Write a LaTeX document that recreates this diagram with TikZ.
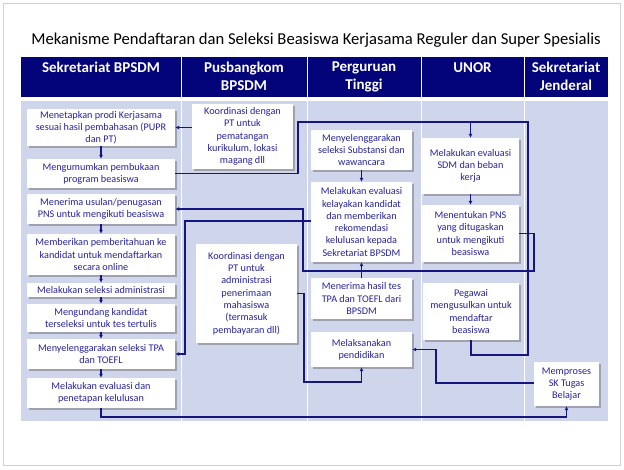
\documentclass[tikz,border=0pt]{standalone}
\usepackage{fontspec}
\setmainfont{Carlito}
\usetikzlibrary{arrows.meta,shadows}
\definecolor{navyline}{RGB}{22,22,128}
\definecolor{boxtext}{RGB}{40,36,150}
\definecolor{headfill}{RGB}{4,4,122}
\definecolor{bodyfill}{RGB}{207,213,234}
\tikzset{
  box/.style={fill=white, draw=none, inner sep=0pt, align=center, text=boxtext,
    font=\fontsize{10.2}{12.3}\selectfont,
    drop shadow={shadow xshift=1.6pt, shadow yshift=-1.6pt, opacity=0.45, fill=black!60}},
  headlbl/.style={anchor=north, text=white, align=center, inner sep=0pt,
    font=\bfseries\fontsize{15}{18}\selectfont},
  conn/.style={draw=navyline, line width=1.2pt},
  arr/.style={conn, -{Latex[length=4pt,width=4pt]}},
}
\begin{document}
\begin{tikzpicture}[x=1pt,y=-1pt]
\useasboundingbox (0,0) rectangle (624,469);
% slide frame
\draw[black!18, line width=1pt] (3,3) rectangle (620,465);
% title
\node[font=\fontsize{16.6}{19}\selectfont, inner sep=0pt] (title) at (316,40) {Mekanisme Pendaftaran dan Seleksi Beasiswa Kerjasama Reguler dan Super Spesialis};
% header and body
\fill[headfill] (21,57) rectangle (608,97);
\fill[bodyfill] (21,101) rectangle (608,421);
\foreach \xx in {181,307,421,524}{
  \draw[white, line width=1pt] (\xx,57) -- (\xx,97);
  \draw[white, line width=1pt] (\xx,101) -- (\xx,421);
}
\node[headlbl] (h1) at (101,62) {Sekretariat BPSDM};
\node[headlbl] (h2) at (244,62) {Pusbangkom\\BPSDM};
\node[headlbl] (h3) at (364,62) {Perguruan\\Tinggi};
\node[headlbl] (h4) at (472.5,62) {UNOR};
\node[headlbl] (h5) at (566,62) {Sekretariat\\Jenderal};
% column 1
\node[box, minimum width=148, minimum height=37] (A) at (101,127.5) {Menetapkan prodi Kerjasama\\sesuai hasil pembahasan (PUPR\\dan PT)};
\node[box, minimum width=148, minimum height=29] (B) at (101,173.5) {Mengumumkan pembukaan\\program beasiswa};
\node[box, minimum width=148, minimum height=30] (C) at (101,209) {Menerima usulan/penugasan\\PNS untuk mengikuti beasiswa};
\node[box, minimum width=148, minimum height=41] (D) at (101,254.5) {Memberikan pemberitahuan ke\\kandidat untuk mendaftarkan\\secara online};
\node[box, minimum width=148, minimum height=14] (E) at (101,290) {Melakukan seleksi administrasi};
\node[box, minimum width=148, minimum height=28] (F) at (101,318) {Mengundang kandidat\\terseleksi untuk tes tertulis};
\node[box, minimum width=148, minimum height=30] (G) at (101,354) {Menyelenggarakan seleksi TPA\\dan TOEFL};
\node[box, minimum width=148, minimum height=30] (H) at (101,393) {Melakukan evaluasi dan\\penetapan kelulusan};
% column 2
\node[box, minimum width=101, minimum height=65] (P1) at (242.5,136.5) {Koordinasi dengan\\PT untuk\\pematangan\\kurikulum, lokasi\\magang dll};
\node[box, minimum width=101, minimum height=99] (P2) at (246.5,293.5) {Koordinasi dengan\\PT untuk\\administrasi\\penerimaan\\mahasiswa\\(termasuk\\pembayaran dll)};
% column 3
\node[box, minimum width=101, minimum height=40] (T1) at (361.5,150) {Menyelenggarakan\\seleksi Substansi dan\\wawancara};
\node[box, minimum width=101, minimum height=80] (T2) at (361.5,222) {Melakukan evaluasi\\kelayakan kandidat\\dan memberikan\\rekomendasi\\kelulusan kepada\\Sekretariat BPSDM};
\node[box, minimum width=101, minimum height=41] (T3) at (361.5,298.5) {Menerima hasil tes\\TPA dan TOEFL dari\\BPSDM};
\node[box, minimum width=101, minimum height=35] (T4) at (361.5,349.5) {Melaksanakan\\pendidikan};
% column 4
\node[box, minimum width=97, minimum height=56] (U1) at (470.5,166) {Melakukan evaluasi\\SDM dan beban\\kerja};
\node[box, minimum width=97, minimum height=57] (U2) at (470.5,233.5) {Menentukan PNS\\yang ditugaskan\\untuk mengikuti\\beasiswa};
\node[box, minimum width=96, minimum height=57] (U3) at (471,311.5) {Pegawai\\mengusulkan untuk\\mendaftar\\beasiswa};
% column 5
\node[box, minimum width=65, minimum height=44] (S1) at (566.5,384) {Memproses\\SK Tugas\\Belajar};
% routing coordinates
\coordinate (bA) at (298,173.5);
\coordinate (bB) at (298,122);
\coordinate (bC) at (470.5,122);
\coordinate (uA) at (471,355);
\coordinate (uB) at (528,355);
\coordinate (uC) at (528,122);
\coordinate (vA) at (534,233.5);
\coordinate (vB) at (534,271);
\coordinate (vC) at (303,271);
\coordinate (vD) at (303,209);
\coordinate (wA) at (185,221);
\coordinate (wB) at (185,354);
\coordinate (hA) at (101,417);
\coordinate (hB) at (566.5,417);
\coordinate (pA) at (304,293.5);
\coordinate (pB) at (304,382);
\coordinate (pC) at (361.5,382);
\coordinate (sA) at (436,383);
\coordinate (sB) at (436,349.5);
% connectors
\draw[arr] (P1.west |- A.east) -- (A.east);
\draw[arr] (A.south) -- (B.north);
\draw[arr] (C.south) -- (D.north);
\draw[arr] (D.south) -- (E.north);
\draw[arr] (E.south) -- (F.north);
\draw[arr] (F.south) -- (G.north);
\draw[arr] (G.south) -- (H.north);
\draw[arr] (B.east) -- (bA) -- (bB) -- (bC) -- (U1.north);
\draw[conn] (U3.south) -- (uA) -- (uB) -- (uC) -- (bC);
\draw[arr] (U1.south) -- (U2.north);
\draw[arr] (U2.east) -- (vA) -- (vB) -- (vC) -- (vD) -- (C.east);
\draw[arr] (T2.west |- wA) -- (wA) -- (wB) -- (G.east);
\draw[arr] (T1.south) -- (T2.north);
\draw[arr] (T3.north) -- (T2.south);
\draw[arr] (H.south) -- (hA) -- (hB) -- (S1.south);
\draw[arr] (P2.east) -- (pA) -- (pB) -- (pC) -- (T4.south);
\draw[arr] (S1.west |- sA) -- (sA) -- (sB) -- (T4.east);
\end{tikzpicture}
\end{document}
